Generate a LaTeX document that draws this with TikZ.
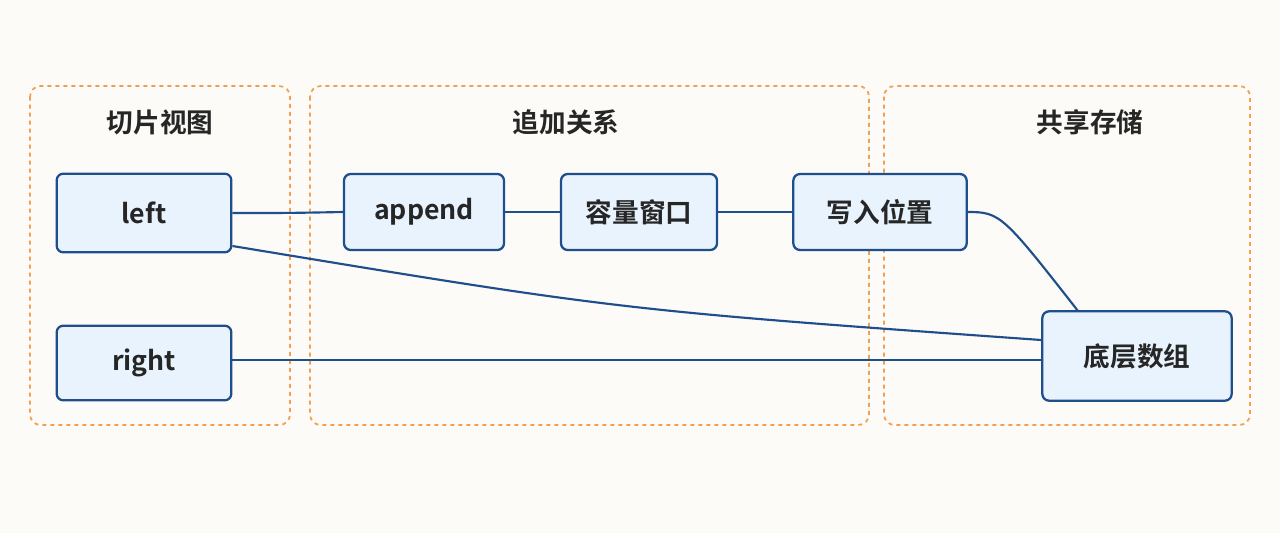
\documentclass[tikz,border=0pt]{standalone}
\usepackage{fontspec}
\setmainfont{Noto Sans CJK SC}[BoldFont={Noto Sans CJK SC Bold}]
\begin{document}
\begin{tikzpicture}[x=0.75pt,y=-0.75pt,
  box/.style={draw=edgeblue,line width=1.7pt,fill=boxfill,rounded corners=5pt,font=\fontsize{20}{24}\selectfont\bfseries,text=black!85},
  grp/.style={draw=grporange,dashed,line width=1.3pt,rounded corners=8pt},
  ttl/.style={font=\fontsize{20}{24}\selectfont\bfseries,text=black!85},
  ln/.style={draw=edgeblue,line width=1.6pt}]
\definecolor{edgeblue}{HTML}{1F4E8C}
\definecolor{boxfill}{HTML}{E8F3FE}
\definecolor{grporange}{HTML}{F0A050}
\definecolor{bg}{HTML}{FCFBF7}
\fill[bg] (0,0) rectangle (1280,533);
\useasboundingbox (0,0) rectangle (1280,533);
\draw[grp] (30,86) rectangle (290,425);
\draw[grp] (310,86) rectangle (869,425);
\draw[grp] (884,86) rectangle (1250,425);
\node[ttl] (t1) at (160,122) {切片视图};
\node[ttl] (t2) at (566,122) {追加关系};
\node[ttl] (t3) at (1090,122) {共享存储};
\node[box,minimum width=131pt,minimum height=59pt] (left) at (144,213) {left};
\node[box,minimum width=131pt,minimum height=56pt] (right) at (144,363) {right};
\node[box,minimum width=120pt,minimum height=57pt] (app) at (424,212) {append};
\node[box,minimum width=117pt,minimum height=57pt] (cap) at (639,212) {容量窗口};
\node[box,minimum width=130pt,minimum height=57pt] (wr) at (880,212) {写入位置};
\node[box,minimum width=142pt,minimum height=67pt] (arr) at (1137,356) {底层数组};
\draw[ln] (left.east) .. controls (290,213) .. (app.west);
\draw[ln] (app) -- (cap);
\draw[ln] (cap) -- (wr);
\draw[ln] (wr.east) .. controls (1000,212) and (1003,215) .. (1078,311);
\draw[ln] ([yshift=-0.75*33pt]left.east) .. controls (620,310) .. ([yshift=0.75*16pt]arr.west);
\draw[ln] ([yshift=0.75*3pt]right.east) -- ([yshift=-0.75*4pt]arr.west);
\end{tikzpicture}
\end{document}
